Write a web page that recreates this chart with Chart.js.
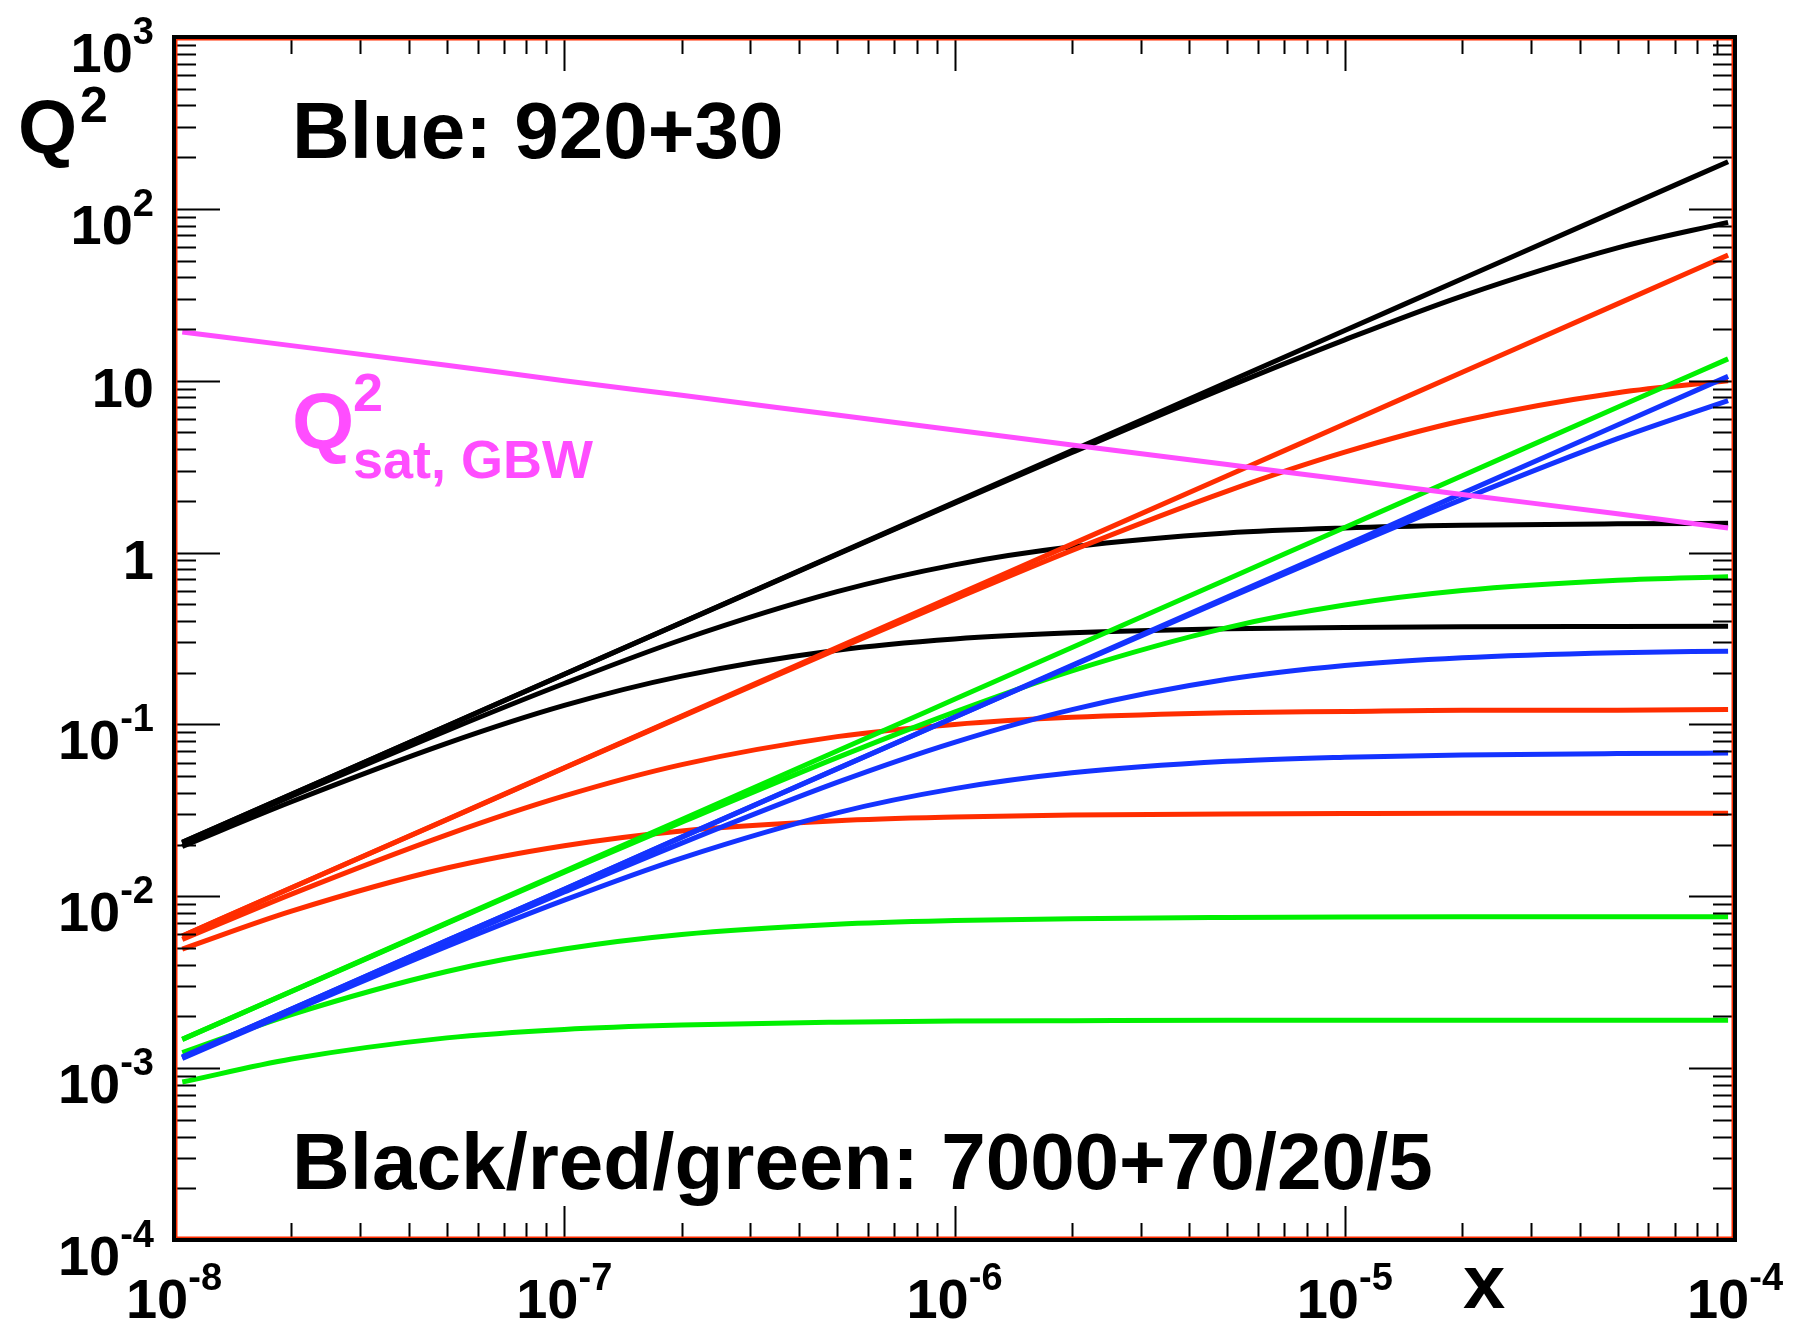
<!DOCTYPE html>
<html>
<head>
<meta charset="utf-8">
<title>Q2 vs x</title>
<script src="https://cdn.jsdelivr.net/npm/chart.js@4.4.1/dist/chart.umd.min.js"></script>
<style>
  html, body { margin: 0; padding: 0; background: #fff; }
  canvas { display: block; }
</style>
</head>
<body>
<canvas id="chart" width="1793" height="1328"></canvas>
<script>
const xGrid = [1.05e-8, 2e-8, 5e-8, 1e-7, 2e-7, 5e-7, 1e-6, 2e-6, 5e-6, 1e-5, 2e-5, 5e-5, 9.6e-5];

// black: 7000+70
const blackLine = [0.0206, 0.0392, 0.098, 0.196, 0.392, 0.98, 1.96, 3.92, 9.8, 19.6, 39.2, 98, 188];
const blackA = [0.0206, 0.0392, 0.0979, 0.196, 0.391, 0.974, 1.94, 3.82, 9.2, 17.3, 31.1, 59.3, 83.5];
const blackB = [0.0203, 0.0382, 0.092, 0.173, 0.311, 0.592, 0.848, 1.08, 1.3, 1.39, 1.44, 1.47, 1.48];
const blackC = [0.0195, 0.0355, 0.0776, 0.129, 0.191, 0.27, 0.314, 0.341, 0.36, 0.366, 0.37, 0.372, 0.373];

// red: 7000+20
const redLine = [0.00588, 0.0112, 0.028, 0.056, 0.112, 0.28, 0.56, 1.12, 2.8, 5.6, 11.2, 28, 53.8];
const redA = [0.00588, 0.0112, 0.0279, 0.0558, 0.111, 0.274, 0.536, 1.03, 2.28, 3.84, 5.85, 8.52, 9.98];
const redB = [0.00561, 0.0103, 0.0228, 0.0384, 0.0584, 0.0849, 0.1, 0.11, 0.117, 0.119, 0.121, 0.121, 0.122];
const redC = [0.00493, 0.00819, 0.0146, 0.0197, 0.024, 0.0275, 0.0289, 0.0297, 0.0301, 0.0303, 0.0304, 0.0304, 0.0304];

// green: 7000+5
const greenLine = [0.00147, 0.0028, 0.007, 0.014, 0.028, 0.07, 0.14, 0.28, 0.7, 1.4, 2.8, 7, 13.4];
const greenA = [0.00147, 0.00279, 0.00694, 0.0138, 0.027, 0.0641, 0.118, 0.205, 0.366, 0.495, 0.601, 0.69, 0.724];
const greenB = [0.00123, 0.00205, 0.00365, 0.00493, 0.00599, 0.00687, 0.00722, 0.00741, 0.00753, 0.00758, 0.0076, 0.00761, 0.00761];
const greenC = [0.00083, 0.00113, 0.0015, 0.00168, 0.00178, 0.00185, 0.00188, 0.00189, 0.0019, 0.0019, 0.0019, 0.0019, 0.0019];

// blue: 920+30
const blueLine = [0.00116, 0.00221, 0.00552, 0.011, 0.0221, 0.0552, 0.11, 0.221, 0.552, 1.1, 2.21, 5.52, 10.6];
const blueA = [0.00116, 0.00221, 0.00552, 0.011, 0.0221, 0.0551, 0.11, 0.219, 0.541, 1.06, 2.04, 4.6, 7.66];
const blueB = [0.00115, 0.00219, 0.00541, 0.0106, 0.0204, 0.046, 0.0787, 0.122, 0.183, 0.22, 0.244, 0.261, 0.267];
const blueC = [0.00114, 0.00214, 0.00511, 0.0095, 0.0167, 0.0306, 0.0423, 0.0523, 0.061, 0.0645, 0.0665, 0.0677, 0.0681];

// saturation scale, GBW
const qsatGBW = [19.2, 16.0, 12.3, 10.0, 8.22, 6.31, 5.17, 4.23, 3.25, 2.66, 2.18, 1.68, 1.39];

// axis decades (tick labels are 10^n)
const xExponents = [-8, -7, -6, -5, -4];
const yExponents = [-4, -3, -2, -1, 0, 1, 2, 3];

const FONT = '"Liberation Sans", Arial, Helvetica, sans-serif';
const COLORS = { black: '#000000', red: '#ff2d00', green: '#00f000', blue: '#1433ff', magenta: '#ff4dff' };

function font(size) {
  return 'bold ' + size + 'px ' + FONT;
}

function series(values, color, order) {
  return {
    data: xGrid.map((x, i) => ({ x: x, y: values[i] })),
    borderColor: color,
    backgroundColor: color,
    borderWidth: 5,
    pointRadius: 0,
    fill: false,
    cubicInterpolationMode: 'monotone',
    borderJoinStyle: 'round',
    order: order
  };
}

const datasets = [
  series(blackLine, COLORS.black, 5), series(blackA, COLORS.black, 5),
  series(blackB, COLORS.black, 5), series(blackC, COLORS.black, 5),
  series(redLine, COLORS.red, 4), series(redA, COLORS.red, 4),
  series(redB, COLORS.red, 4), series(redC, COLORS.red, 4),
  series(greenLine, COLORS.green, 3), series(greenA, COLORS.green, 3),
  series(greenB, COLORS.green, 3), series(greenC, COLORS.green, 3),
  series(blueLine, COLORS.blue, 2), series(blueA, COLORS.blue, 2),
  series(blueB, COLORS.blue, 2), series(blueC, COLORS.blue, 2),
  series(qsatGBW, COLORS.magenta, 1)
];

// "10^n" label, baseline is the baseline of the "10"
function powerLabel(ctx, exp, x, baseline, align) {
  ctx.textAlign = 'left';
  ctx.textBaseline = 'alphabetic';
  if (exp === 0 || exp === 1) {
    const txt = exp === 0 ? '1' : '10';
    ctx.font = font(56);
    const w = ctx.measureText(txt).width;
    ctx.fillText(txt, align === 'right' ? x - w : x - w / 2, baseline - 9);
    return;
  }
  const sup = String(exp);
  ctx.font = font(56);
  const w1 = ctx.measureText('10').width;
  ctx.font = font(38);
  const w2 = ctx.measureText(sup).width;
  const left = align === 'right' ? x - w1 - w2 : x - (w1 + w2) / 2;
  ctx.font = font(56);
  ctx.fillText('10', left, baseline);
  ctx.font = font(38);
  ctx.fillText(sup, left + w1, baseline - 28);
}

// ROOT-like frame: inner ticks on all four sides, labels, titles, annotations
const rootFrame = {
  id: 'rootFrame',
  afterDatasetsDraw(chart) {
    const ctx = chart.ctx;
    const a = chart.chartArea;
    const xs = chart.scales.x;
    const ys = chart.scales.y;
    ctx.save();

    // ticks
    ctx.strokeStyle = '#000';
    ctx.lineWidth = 2;
    ctx.beginPath();
    for (let i = 0; i < yExponents.length; i++) {
      const e = yExponents[i];
      for (let k = 1; k <= 9; k++) {
        if (i === yExponents.length - 1 && k > 1) break;
        const py = Math.round(ys.getPixelForValue(k * Math.pow(10, e))) + 0.5;
        const len = k === 1 ? 46 : 22;
        ctx.moveTo(a.left, py); ctx.lineTo(a.left + len, py);
        ctx.moveTo(a.right, py); ctx.lineTo(a.right - len, py);
      }
    }
    for (let i = 0; i < xExponents.length; i++) {
      const e = xExponents[i];
      for (let k = 1; k <= 9; k++) {
        if (i === xExponents.length - 1 && k > 1) break;
        const px = Math.round(xs.getPixelForValue(k * Math.pow(10, e))) + 0.5;
        const len = k === 1 ? 34 : 17;
        ctx.moveTo(px, a.bottom); ctx.lineTo(px, a.bottom - len);
        ctx.moveTo(px, a.top); ctx.lineTo(px, a.top + len);
      }
    }
    ctx.stroke();

    // frame: black with a thin red line inside
    ctx.lineWidth = 4;
    ctx.strokeStyle = '#000';
    ctx.strokeRect(a.left, a.top, a.right - a.left, a.bottom - a.top);
    ctx.lineWidth = 1.5;
    ctx.strokeStyle = '#ff2d00';
    ctx.strokeRect(a.left + 2.75, a.top + 2.75, a.right - a.left - 5.5, a.bottom - a.top - 5.5);

    // tick labels
    ctx.fillStyle = '#000';
    yExponents.forEach(e => {
      powerLabel(ctx, e, 154, ys.getPixelForValue(Math.pow(10, e)) + 35, 'right');
    });
    xExponents.forEach(e => {
      powerLabel(ctx, e, xs.getPixelForValue(Math.pow(10, e)), 1318, 'center');
    });

    // axis titles
    ctx.textAlign = 'left';
    ctx.font = font(76);
    ctx.fillText('Q', 18, 153);
    ctx.font = font(50);
    ctx.fillText('2', 80, 122);
    ctx.font = font(76);
    ctx.fillText('x', 1463, 1308);

    // annotations
    ctx.font = font(80);
    ctx.fillText('Blue: 920+30', 292, 158);
    ctx.fillText('Black/red/green: 7000+70/20/5', 292, 1189);

    ctx.fillStyle = COLORS.magenta;
    ctx.font = font(80);
    ctx.fillText('Q', 292, 448);
    ctx.font = font(54);
    ctx.fillText('2', 353, 411);
    ctx.fillText('sat, GBW', 353, 478);

    ctx.restore();
  }
};

new Chart(document.getElementById('chart'), {
  type: 'line',
  data: { datasets: datasets },
  options: {
    responsive: false,
    animation: false,
    layout: { padding: { left: 174, top: 37, right: 58, bottom: 88 } },
    scales: {
      x: { type: 'logarithmic', min: 1e-8, max: 1e-4, display: false },
      y: { type: 'logarithmic', min: 1e-4, max: 1e3, display: false }
    },
    plugins: { legend: { display: false }, tooltip: { enabled: false } }
  },
  plugins: [rootFrame]
});
</script>
</body>
</html>
